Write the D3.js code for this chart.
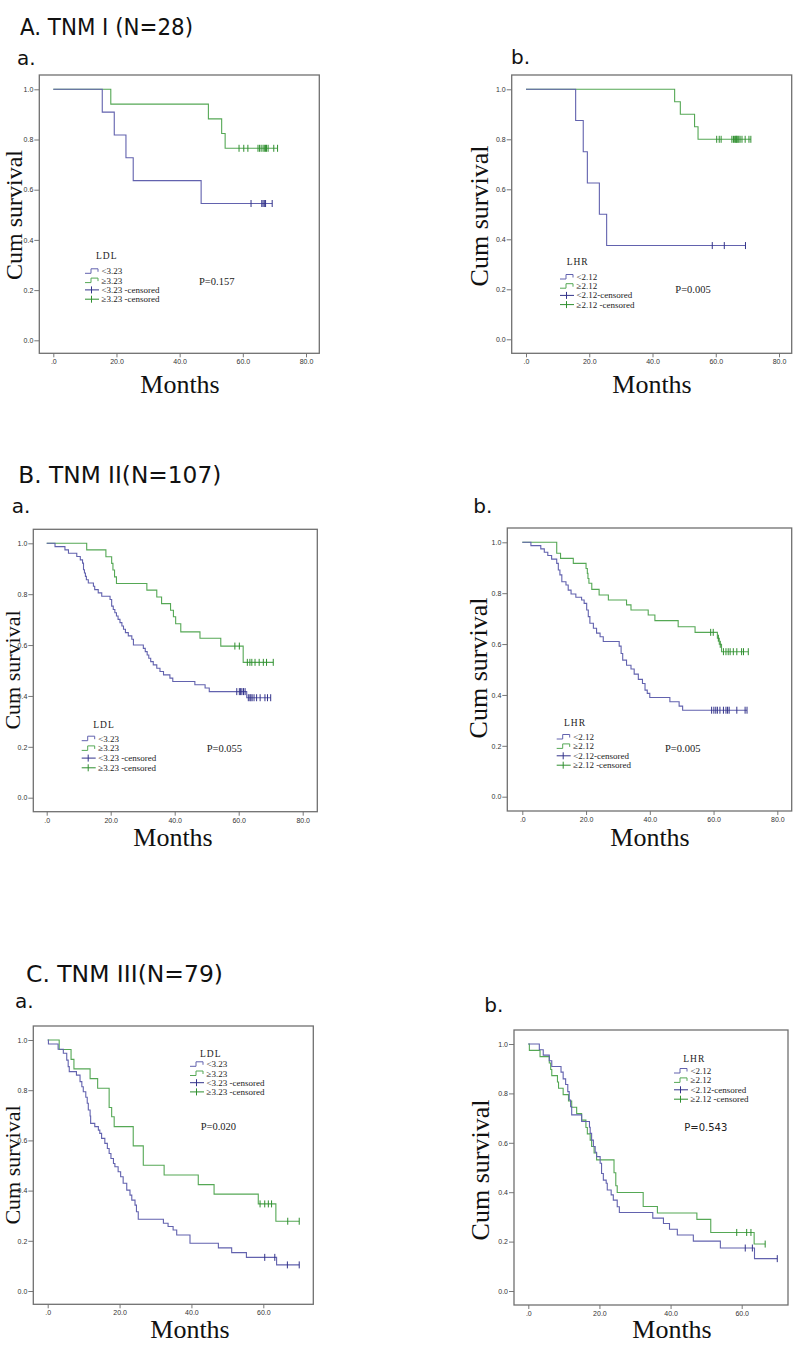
<!DOCTYPE html>
<html><head><meta charset="utf-8">
<script src="https://cdn.jsdelivr.net/npm/d3@7"></script>
<style>body{margin:0;background:#fff}</style>
</head><body>
<svg id="chart" width="797" height="1354"></svg>
<script>
// ---------------- DATA ----------------
const timeTicksAB = [0, 20, 40, 60, 80];
const timeTicksC = [0, 20, 40, 60];
const survTicks = [0, 0.2, 0.4, 0.6, 0.8, 1.0];

const ldlLabels = ["<3.23", "\u22653.23", "<3.23 -censored", "\u22653.23 -censored"];
const lhrLabels = ["<2.12", "\u22652.12", "<2.12-censored", "\u22652.12 -censored"];

// A. TNM I — LDL  ([time, survival after drop])
const aLdlLow = [[15.5,0.909],[19.3,0.818],[23.0,0.727],[25.3,0.636],[46.8,0.545]];
const aLdlLowCens = [62.6,66.0,66.4,66.8,67.2,69.3];
const aLdlHigh = [[18.2,0.941],[49.1,0.882],[53.3,0.824],[54.4,0.765]];
const aLdlHighCens = [58.8,60.3,61.6,64.8,65.3,65.8,66.4,66.8,67.2,67.5,68.0,69.8,71.0];
// A. TNM I — LHR
const aLhrLow = [[15.7,0.875],[18.1,0.75],[19.4,0.625],[23.2,0.5],[25.5,0.375]];
const aLhrLowCens = [58.9,62.7,69.4];
const aLhrHigh = [[47.0,0.95],[48.8,0.90],[53.3,0.85],[54.4,0.80]];
const aLhrHighCens = [60.3,61.1,61.7,65.1,65.6,66.0,66.3,66.5,66.7,67.0,67.3,67.7,68.3,69.3,70.5,71.1];

// B. TNM II — LDL
const bLdlLow = [[2.6,0.987],[5.7,0.974],[6.8,0.961],[9.4,0.948],[10.5,0.935],[11.2,0.922],[11.5,0.896],[11.8,0.883],[12.1,0.870],[12.4,0.857],[13.0,0.844],[14.6,0.831],[15.0,0.818],[16.1,0.805],[17.2,0.792],[19.8,0.779],[20.3,0.753],[20.8,0.740],[21.3,0.727],[21.8,0.714],[22.3,0.701],[22.9,0.688],[23.5,0.675],[24.0,0.662],[24.6,0.649],[25.5,0.636],[26.6,0.623],[27.1,0.600],[30.2,0.587],[30.8,0.574],[31.4,0.561],[31.9,0.548],[32.5,0.535],[33.3,0.522],[34.4,0.509],[35.4,0.496],[36.5,0.483],[38.5,0.470],[39.4,0.457],[46.3,0.444],[49.5,0.431],[50.8,0.417],[62.5,0.393]];
const bLdlLowCens = [59.4,60.2,60.6,61.0,61.5,62.0,63.0,63.5,63.8,64.2,64.8,65.6,66.7,68.2,69.0,70.0];
const bLdlHigh = [[12.5,0.974],[18.5,0.947],[20.3,0.921],[20.7,0.895],[21.2,0.868],[21.8,0.842],[31.3,0.816],[34.4,0.789],[35.9,0.763],[38.7,0.737],[39.6,0.711],[40.3,0.684],[41.9,0.652],[47.9,0.627],[54.4,0.596],[61.4,0.532]];
const bLdlHighCens = [58.8,60.2,62.7,63.5,64.1,65.1,66.4,67.7,68.7,70.8];
// B. TNM II — LHR
const bLhrLow = [[2.7,0.987],[5.8,0.974],[6.9,0.961],[8.0,0.948],[9.2,0.934],[10.8,0.917],[11.3,0.891],[11.8,0.872],[12.4,0.845],[13.7,0.832],[14.4,0.812],[15.3,0.797],[16.8,0.784],[18.6,0.773],[19.4,0.760],[20.2,0.734],[20.7,0.708],[21.2,0.682],[22.3,0.662],[23.3,0.643],[24.4,0.629],[25.4,0.610],[30.4,0.592],[31.0,0.563],[31.5,0.537],[32.7,0.517],[34.1,0.502],[35.1,0.482],[36.4,0.461],[37.7,0.445],[38.5,0.419],[39.2,0.406],[40.0,0.390],[46.3,0.373],[49.2,0.356],[50.3,0.340]];
const bLhrLowCens = [59.4,60.1,60.7,61.2,62.0,63.1,63.9,64.4,64.9,67.3,69.9,70.5];
const bLhrHigh = [[10.8,0.957],[12.0,0.937],[16.0,0.917],[20.0,0.897],[20.4,0.878],[20.6,0.858],[20.9,0.839],[21.8,0.815],[24.1,0.793],[27.0,0.773],[32.7,0.754],[34.1,0.734],[39.5,0.714],[41.6,0.692],[48.9,0.668],[54.2,0.646],[61.2,0.623],[61.8,0.599],[62.5,0.570]];
const bLhrHighCens = [59.1,59.9,61.5,62.1,63.1,63.9,64.6,65.2,66.2,67.3,68.8,69.4,70.9];

// C. TNM III — LDL
const cLdlLow = [[0.2,0.984],[2.9,0.963],[4.35,0.947],[5.3,0.920],[5.7,0.894],[6.0,0.874],[8.0,0.860],[9.0,0.834],[9.5,0.814],[9.9,0.794],[10.6,0.772],[11.0,0.748],[11.3,0.721],[11.8,0.697],[11.95,0.668],[13.1,0.655],[14.1,0.641],[14.5,0.628],[15.0,0.608],[15.9,0.588],[16.6,0.568],[17.1,0.548],[17.6,0.528],[18.3,0.508],[18.7,0.495],[19.6,0.475],[20.3,0.455],[21.0,0.429],[22.0,0.402],[22.9,0.382],[23.4,0.362],[24.3,0.342],[24.7,0.316],[25.2,0.286],[32.2,0.270],[33.5,0.257],[34.9,0.243],[35.9,0.223],[39.6,0.190],[47.5,0.172],[51.2,0.153],[55.3,0.134],[63.7,0.104]];
const cLdlLowCens = [60.4,63.2,66.7,70.0];
const cLdlHigh = [[3.2,0.962],[6.5,0.923],[7.3,0.885],[11.8,0.846],[13.9,0.808],[17.1,0.731],[17.8,0.694],[18.5,0.655],[23.8,0.578],[26.6,0.501],[32.4,0.462],[41.9,0.424],[46.3,0.386],[58.6,0.347],[63.5,0.278]];
const cLdlHighCens = [59.1,60.4,61.4,62.3,66.8,70.0];
// C. TNM III — LHR
const cLhrLow = [[3.1,0.977],[4.2,0.955],[5.9,0.932],[6.6,0.909],[9.2,0.886],[9.8,0.859],[10.5,0.836],[11.1,0.807],[11.5,0.773],[11.9,0.746],[12.2,0.713],[15.0,0.686],[17.2,0.663],[17.4,0.638],[17.8,0.611],[18.3,0.585],[18.8,0.562],[19.2,0.544],[20.2,0.517],[20.6,0.476],[21.1,0.449],[21.9,0.436],[22.2,0.409],[23.3,0.389],[23.9,0.368],[25.0,0.341],[25.6,0.318],[35.0,0.295],[38.0,0.273],[39.7,0.250],[41.9,0.227],[46.4,0.202],[54.0,0.174],[63.6,0.131]];
const cLhrLowCens = [61.0,63.0,70.0];
const cLhrHigh = [[0.3,0.974],[3.3,0.949],[5.9,0.923],[6.3,0.897],[6.6,0.872],[8.2,0.846],[8.5,0.821],[9.8,0.795],[11.3,0.769],[12.2,0.744],[13.6,0.718],[15.0,0.692],[16.2,0.662],[16.6,0.636],[17.4,0.611],[17.8,0.585],[18.5,0.559],[19.2,0.531],[24.1,0.479],[24.6,0.426],[25.0,0.399],[32.3,0.342],[36.3,0.316],[47.4,0.290],[51.3,0.237],[63.5,0.190]];
const cLhrHighCens = [58.6,61.4,62.6,66.6];

const pValues = ["P=0.157", "P=0.005", "P=0.055", "P=0.005", "P=0.020", "P=0.543"];

// ---------------- LAYOUT ----------------
const COL_LOW = "#6262ae", COL_LOW_C = "#33338a";
const COL_HIGH = "#55a855", COL_HIGH_C = "#2f8f2f";

const panels = [
  {frame:[39.3,75,319.3,353.3], xd:80, xr:[53.3,306], yr:[340.3,89.3], ticks:timeTicksAB,
   low:aLdlLow, lowC:aLdlLowCens, high:aLdlHigh, highC:aLdlHighCens, title:"LDL", labels:ldlLabels,
   leg:{sx:85, tx:96, ty:259, r0:274.3, st:9.3}, p:{x:199,y:285,sans:false}, cum:{x:21.5,y:215,fs:24}, months:{x:180,y:393}},
  {frame:[511.7,75,791.7,353.3], xd:80, xr:[526,779], yr:[339.3,89.3], ticks:timeTicksAB,
   low:aLhrLow, lowC:aLhrLowCens, high:aLhrHigh, highC:aLhrHighCens, title:"LHR", labels:lhrLabels,
   leg:{sx:560, tx:566.7, ty:265, r0:280, st:9.2}, p:{x:675.3,y:293.3,sans:false}, cum:{x:488,y:216,fs:26}, months:{x:652,y:393}},
  {frame:[33.3,529.3,317.3,811.7], xd:80, xr:[46.7,302.7], yr:[797.7,543.3], ticks:timeTicksAB,
   low:bLdlLow, lowC:bLdlLowCens, high:bLdlHigh, highC:bLdlHighCens, title:"LDL", labels:ldlLabels,
   leg:{sx:81.7, tx:93.3, ty:728.3, r0:741.7, st:9.7}, p:{x:206.7,y:752.3,sans:false}, cum:{x:19.5,y:670,fs:22}, months:{x:173,y:846}},
  {frame:[507.3,528,791.7,811], xd:80, xr:[522.3,777.3], yr:[796.7,542.3], ticks:timeTicksAB,
   low:bLhrLow, lowC:bLhrLowCens, high:bLhrHigh, highC:bLhrHighCens, title:"LHR", labels:lhrLabels,
   leg:{sx:556.7, tx:564, ty:726, r0:740, st:9.4}, p:{x:665,y:752.3,sans:false}, cum:{x:487,y:668,fs:26}, months:{x:650,y:846}},
  {frame:[33.3,1026,313.3,1304.3], xd:60, xr:[47.7,263.3], yr:[1291,1040], ticks:timeTicksC,
   low:cLdlLow, lowC:cLdlLowCens, high:cLdlHigh, highC:cLdlHighCens, title:"LDL", labels:ldlLabels,
   leg:{sx:190, tx:200, ty:1057.3, r0:1067.3, st:9.2}, p:{x:200.7,y:1130,sans:false}, cum:{x:19.5,y:1165,fs:22}, months:{x:190,y:1338}},
  {frame:[514,1030,788,1305], xd:60, xr:[528.3,741.7], yr:[1291,1044], ticks:timeTicksC,
   low:cLhrLow, lowC:cLhrLowCens, high:cLhrHigh, highC:cLhrHighCens, title:"LHR", labels:lhrLabels,
   leg:{sx:674, tx:683.3, ty:1061.7, r0:1074, st:9.4}, p:{x:684.3,y:1130.7,sans:true}, cum:{x:489,y:1170,fs:26}, months:{x:672,y:1338}}
];

const headings = [
  {text:"A. TNM I (N=28)", x:20, y:34.5, w:173},
  {text:"B. TNM II(N=107)", x:18.3, y:483, w:203},
  {text:"C. TNM III(N=79)", x:26, y:981.7, w:197}
];
const subLabels = [
  {text:"a.", x:17, y:65}, {text:"b.", x:511, y:64},
  {text:"a.", x:11.7, y:513.3}, {text:"b.", x:473.3, y:513},
  {text:"a.", x:15, y:1008}, {text:"b.", x:484.3, y:1011.7}
];

// ---------------- DRAW ----------------
const svg = d3.select("#chart");
svg.append("rect").attr("width",797).attr("height",1354).attr("fill","#fff");

headings.forEach(h => {
  svg.append("text").attr("x",h.x).attr("y",h.y).text(h.text)
    .attr("font-family","DejaVu Sans, Verdana, sans-serif").attr("font-size",23)
    .attr("textLength",h.w).attr("lengthAdjust","spacingAndGlyphs").attr("fill","#111");
});
subLabels.forEach(s => {
  svg.append("text").attr("x",s.x).attr("y",s.y).text(s.text)
    .attr("font-family","DejaVu Sans, Verdana, sans-serif").attr("font-size",20).attr("fill","#111");
});

function survAt(steps, t) {
  let s = 1;
  for (const [tt, ss] of steps) { if (tt <= t) s = ss; }
  return s;
}

panels.forEach((p, i) => {
  const g = svg.append("g");
  const x = d3.scaleLinear().domain([0, p.xd]).range(p.xr);
  const y = d3.scaleLinear().domain([0, 1]).range(p.yr);
  const [fx0, fy0, fx1, fy1] = p.frame;

  // axes
  const yAxis = d3.axisLeft(y).tickValues(survTicks).tickFormat(d3.format(".1f")).tickSize(5).tickPadding(1);
  const ya = g.append("g").attr("transform", `translate(${fx0},0)`).call(yAxis);
  const xAxis = d3.axisBottom(x).tickValues(p.ticks).tickFormat(d => d === 0 ? ".0" : d.toFixed(1)).tickSize(4).tickPadding(2);
  const xa = g.append("g").attr("transform", `translate(0,${fy1})`).call(xAxis);
  [ya, xa].forEach(a => {
    a.select(".domain").remove();
    a.selectAll(".tick line").attr("stroke", "#555").attr("stroke-width", 0.8);
    a.selectAll(".tick text").attr("font-family", "Liberation Sans, Arial, sans-serif").attr("font-size", 7).attr("fill", "#333");
  });

  // frame
  g.append("rect").attr("x", fx0).attr("y", fy0).attr("width", fx1 - fx0).attr("height", fy1 - fy0)
    .attr("fill", "none").attr("stroke", "#707070").attr("stroke-width", 1.3);

  const line = d3.line().x(d => x(d[0])).y(d => y(d[1])).curve(d3.curveStepAfter);
  function drawSeries(steps, cens, col, colC) {
    const end = Math.max(steps[steps.length - 1][0], d3.max(cens));
    const pts = [[0, 1], ...steps, [end, survAt(steps, end)]];
    g.append("path").attr("d", line(pts)).attr("fill", "none").attr("stroke", col).attr("stroke-width", 1.1);
    g.selectAll(null).data(cens).enter().append("line")
      .attr("x1", d => x(d)).attr("x2", d => x(d))
      .attr("y1", d => y(survAt(steps, d)) - 3.5).attr("y2", d => y(survAt(steps, d)) + 3.5)
      .attr("stroke", colC).attr("stroke-width", 1);
  }
  drawSeries(p.high, p.highC, COL_HIGH, COL_HIGH_C);
  drawSeries(p.low, p.lowC, COL_LOW, COL_LOW_C);

  // legend
  const L = p.leg;
  g.append("text").attr("x", L.tx).attr("y", L.ty).text(p.title)
    .attr("font-family", "Liberation Serif, serif").attr("font-size", 9.5).attr("letter-spacing", 1).attr("fill", "#222");
  const cols = [COL_LOW, COL_HIGH, COL_LOW_C, COL_HIGH_C];
  p.labels.forEach((lab, k) => {
    const by = L.r0 + k * L.st, cy = by - 3;
    if (k < 2) {
      g.append("path").attr("d", `M${L.sx},${cy + 2}H${L.sx + 6}V${cy - 2.5}H${L.sx + 13}V${cy + 0.5}`)
        .attr("fill", "none").attr("stroke", cols[k]).attr("stroke-width", 1);
    } else {
      g.append("line").attr("x1", L.sx).attr("x2", L.sx + 14).attr("y1", cy).attr("y2", cy).attr("stroke", cols[k]).attr("stroke-width", 1);
      g.append("line").attr("x1", L.sx + 6.5).attr("x2", L.sx + 6.5).attr("y1", cy - 3.5).attr("y2", cy + 3.5).attr("stroke", cols[k]).attr("stroke-width", 1);
    }
    g.append("text").attr("x", L.sx + 16.5).attr("y", by).text(lab)
      .attr("font-family", "Liberation Serif, serif").attr("font-size", 9).attr("fill", "#222");
  });

  // p value
  g.append("text").attr("x", p.p.x).attr("y", p.p.y).text(pValues[i])
    .attr("font-family", p.p.sans ? "DejaVu Sans, sans-serif" : "Liberation Serif, serif")
    .attr("font-size", p.p.sans ? 10 : 10.5).attr("fill", "#222");

  // axis titles
  g.append("text").attr("transform", `translate(${p.cum.x},${p.cum.y}) rotate(-90)`).attr("text-anchor", "middle")
    .text("Cum survival").attr("font-family", "Liberation Serif, serif").attr("font-size", p.cum.fs).attr("fill", "#111");
  g.append("text").attr("x", p.months.x).attr("y", p.months.y).attr("text-anchor", "middle")
    .text("Months").attr("font-family", "Liberation Serif, serif").attr("font-size", 26).attr("fill", "#111");
});
</script>
</body></html>
